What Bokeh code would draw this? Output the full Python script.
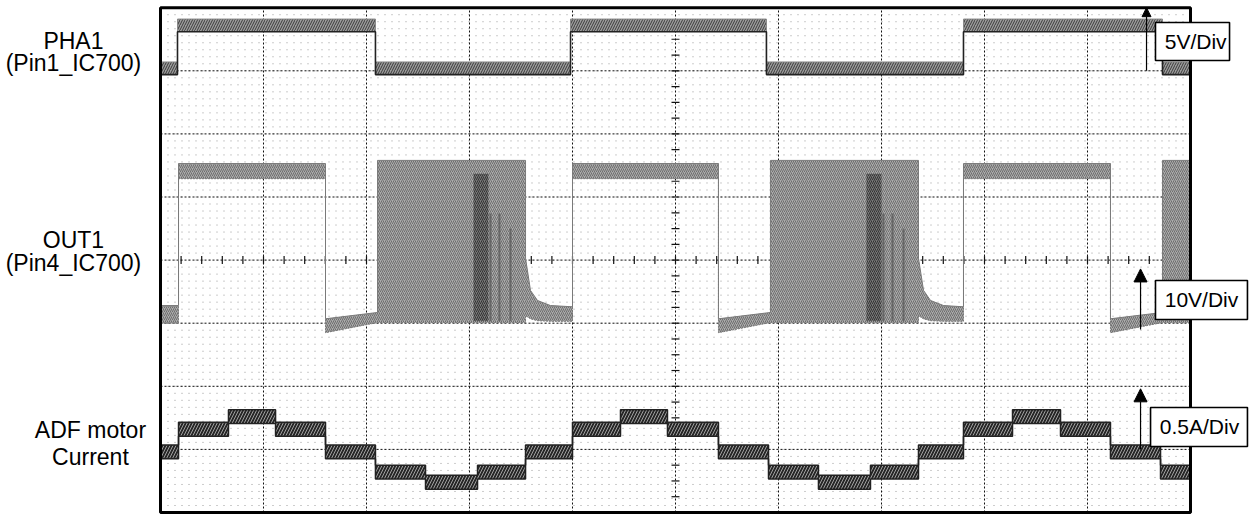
import numpy as np
from bokeh.plotting import figure
from bokeh.models import Range1d, Arrow, NormalHead
from bokeh.embed import file_html
from bokeh.resources import INLINE
from bokeh.core.properties import value

# ---------------- data ----------------
# time axis in screen divisions (10 div across)
# PHA1 : 5 V/div, ground marker at division 7
pha1_edges = [0.0, 0.165, 2.087, 3.981, 5.883, 7.796, 9.728, 10.0]
pha1_volts = [0.2, 3.6, 0.2, 3.6, 0.2, 3.6, 0.2]

# OUT1 : 10 V/div, ground marker at division 3  (envelope of the trace)
out1_t = [0.0, 0.175, 0.175, 1.602, 1.602, 2.107, 2.107, 3.544, 3.544, 3.592, 3.660, 3.786, 4.000,
          4.000, 5.417, 5.417, 5.922, 5.922, 7.359, 7.359, 7.408, 7.476, 7.602, 7.796,
          7.796, 9.223, 9.223, 9.728, 9.728, 10.0]
out1_top = [2.8, 2.8, 25.3, 25.3, 0.7, 1.7, 25.8, 25.8, 10.3, 5.2, 3.6, 2.8, 2.6,
            25.3, 25.3, 0.7, 1.7, 25.8, 25.8, 10.3, 5.2, 3.6, 2.8, 2.6,
            25.3, 25.3, 0.7, 1.7, 25.8, 25.8]
out1_bot = [0.0, 0.0, 22.9, 22.9, -1.5, 0.1, 0.1, 0.1, 1.2, 0.7, 0.4, 0.3, 0.3,
            22.9, 22.9, -1.5, 0.1, 0.1, 0.1, 1.2, 0.7, 0.4, 0.3, 0.3,
            22.9, 22.9, -1.5, 0.1, 0.1, 0.1]
# darker bursts inside the PWM blocks
pwm_dark_start = [3.039, 6.854]
pwm_dark_end = [3.184, 7.000]
pwm_dark_top = [23.7, 23.7]
pwm_spike_t = [3.204, 3.291, 3.398, 7.019, 7.107, 7.214]
pwm_spike_top = [17.4, 17.4, 15.0, 17.4, 17.4, 15.0]

# ADF motor current : 0.5 A/div, ground marker at division 1
cur_edges = [0.0, 0.175, 0.660, 1.117, 1.602, 2.087, 2.573, 3.078, 3.544, 4.000, 4.466,
             4.922, 5.417, 5.903, 6.388, 6.893, 7.359, 7.796, 8.272, 8.738, 9.223, 9.709, 10.0]
cur_amps = [-0.02, 0.16, 0.26, 0.16, -0.02, -0.18, -0.26, -0.18, -0.02, 0.16, 0.26,
            0.16, -0.02, -0.18, -0.26, -0.18, -0.02, 0.16, 0.26, 0.16, -0.02, -0.18]

channel_lines = ["PHA1", "(Pin1_IC700)", "OUT1", "(Pin4_IC700)", "ADF motor", "Current"]
scale_labels = ["5V/Div", "10V/Div", "0.5A/Div"]

PHA1_DIV, PHA1_GND = 5.0, 7.0
OUT1_DIV, OUT1_GND = 10.0, 3.0
CUR_DIV, CUR_GND = 0.5, 1.0


def steps(edges, levels):
    e = np.asarray(edges, float)
    lv = np.asarray(levels, float)
    return np.repeat(e, 2)[1:-1], np.repeat(lv, 2)


# ---------------- figure ----------------
W, H = 1250, 515
PX_X = 103.0
PX_Y = 63.1
x0 = -160.0 / PX_X
y1 = 512.0 / PX_Y
p = figure(width=W, height=H, x_range=Range1d(x0, x0 + W / PX_X),
           y_range=Range1d(y1 - H / PX_Y, y1), toolbar_location=None,
           output_backend="svg", x_axis_type=None, y_axis_type=None,
           min_border=0, outline_line_color=None)
p.grid.visible = False
p.background_fill_color = "white"
p.border_fill_color = "white"

# minor dot raster
rows = np.arange(1, 72) / 9.0
p.segment(x0=np.zeros_like(rows), y0=rows, x1=np.full_like(rows, 10.0), y1=rows,
          line_color="#9a9a9a", line_width=1, line_dash="1 6")
# major graticule
vx = np.arange(1, 10, dtype=float)
hy = np.arange(1, 8, dtype=float)
p.segment(x0=vx, y0=np.zeros_like(vx), x1=vx, y1=np.full_like(vx, 8.0),
          line_color="#111111", line_width=1, line_dash="2 2")
p.segment(x0=np.zeros_like(hy), y0=hy, x1=np.full_like(hy, 10.0), y1=hy,
          line_color="#111111", line_width=1, line_dash="2 2")
# centre-line ticks
tx = np.arange(1, 50) * 0.2
ty = np.arange(1, 32) * 0.25
p.scatter(tx, np.full_like(tx, 4.0), marker="dash", angle=np.pi / 2, size=8,
          line_color="#111111", line_width=1.2)
p.scatter(np.full_like(ty, 5.0), ty, marker="dash", size=8,
          line_color="#111111", line_width=1.2)

# ---------------- OUT1 ----------------
ot = np.asarray(out1_t)
otop = OUT1_GND + np.asarray(out1_top) / OUT1_DIV
obot = OUT1_GND + np.asarray(out1_bot) / OUT1_DIV
p.varea(x=ot, y1=obot, y2=otop, fill_color="#ababab",
        hatch_pattern="/", hatch_color="#6e6e6e", hatch_scale=4, hatch_weight=1)
p.line(ot, otop, line_color="#7a7a7a", line_width=1)
p.line(ot, obot, line_color="#7a7a7a", line_width=1, line_dash="2 1")
p.quad(left=pwm_dark_start, right=pwm_dark_end,
       top=[OUT1_GND + v / OUT1_DIV for v in pwm_dark_top],
       bottom=[OUT1_GND + 0.3 / OUT1_DIV] * len(pwm_dark_start),
       fill_color="#777777", line_color=None,
       hatch_pattern="/", hatch_color="#333333", hatch_scale=4, hatch_weight=1)
p.segment(x0=pwm_spike_t, x1=pwm_spike_t,
          y0=[OUT1_GND + 0.3 / OUT1_DIV] * len(pwm_spike_t),
          y1=[OUT1_GND + v / OUT1_DIV for v in pwm_spike_top],
          line_color="#666666", line_width=2)

# ---------------- PHA1 ----------------
px_, pv = steps(pha1_edges, pha1_volts)
pc = PHA1_GND + pv / PHA1_DIV
p.varea(x=px_, y1=pc - 0.1, y2=pc + 0.1, fill_color="#9c9c9c",
        hatch_pattern="/", hatch_color="#3a3a3a", hatch_scale=5, hatch_weight=1)
p.line(px_, pc + 0.1, line_color="#8a8a8a", line_width=1)
p.line(px_, pc - 0.1, line_color="#222222", line_width=1.6)

# ---------------- current ----------------
cx, cv = steps(cur_edges, cur_amps)
cc = CUR_GND + cv / CUR_DIV
p.varea(x=cx, y1=cc - 0.11, y2=cc + 0.11, fill_color="#262626",
        hatch_pattern="/", hatch_color="#a0a0a0", hatch_scale=6, hatch_weight=1)
p.line(cx, cc + 0.11, line_color="#222222", line_width=1.5)
p.line(cx, cc - 0.11, line_color="#222222", line_width=1.5)

# frame
p.rect(x=[5.0], y=[4.0], width=[10.0], height=[8.0], fill_alpha=0,
       line_color="black", line_width=3)

# ---------------- scale arrows and boxes ----------------
arrow_x = [9.573, 9.515, 9.515]
grounds = [PHA1_GND, OUT1_GND - 0.1, CUR_GND]
head_sizes = [9, 13, 13]
for ax, g, hs in zip(arrow_x, grounds, head_sizes):
    p.add_layout(Arrow(end=NormalHead(size=hs, fill_color="black", line_color="black"),
                       x_start=ax, y_start=g, x_end=ax, y_end=g + 1.0 - (0.04 if hs > 10 else 0.0),
                       line_color="black", line_width=1.2))

box_left = [9.660, 9.660, 9.612]
box_right = [10.379, 10.553, 10.553]
box_top = [7.765, 3.677, 1.664]
box_bottom = [7.163, 3.059, 1.046]
p.quad(left=box_left, right=box_right, top=box_top, bottom=box_bottom,
       fill_color="white", line_color="black", line_width=1.6)
p.text(x=[l + 0.09 for l in box_left], y=[(t + b) / 2 for t, b in zip(box_top, box_bottom)],
       text=scale_labels, text_font=value("Liberation Sans"), text_font_size=value("21px"),
       text_align="left", text_baseline="middle", text_color="black")

# ---------------- channel names ----------------
name_x = [-0.845, -0.845, -0.845, -0.845, -0.68, -0.68]
name_y = [7.48, 7.12, 4.32, 3.95, 1.30, 0.88]
p.text(x=name_x, y=name_y, text=channel_lines, text_font=value("Liberation Sans"),
       text_font_size=value("23px"), text_align="center", text_baseline="middle",
       text_color="black")

open("out.html", "w").write(file_html(p, INLINE))
